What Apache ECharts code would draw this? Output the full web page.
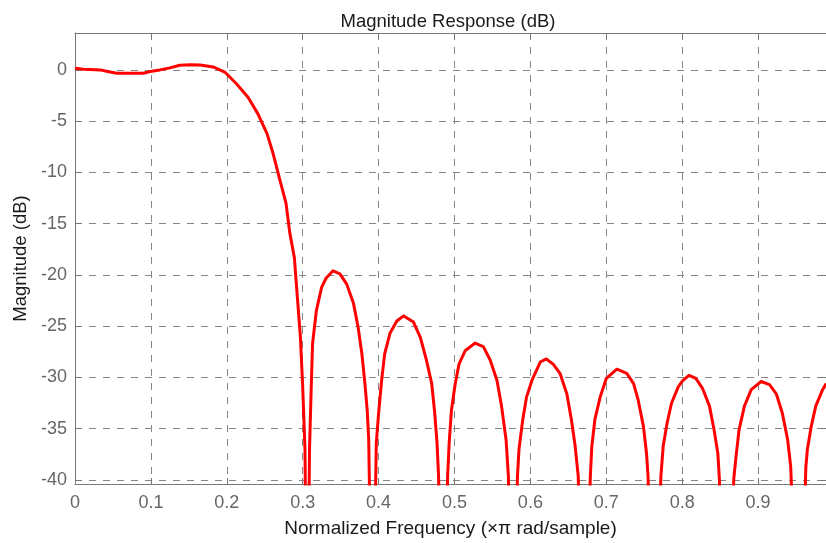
<!DOCTYPE html>
<html>
<head>
<meta charset="utf-8">
<title>Magnitude Response (dB)</title>
<script src="https://cdn.jsdelivr.net/npm/echarts@6/dist/echarts.min.js"></script>
<style>
  html, body { margin: 0; padding: 0; background: #ffffff; }
  #chart { width: 826px; height: 543px; }
</style>
</head>
<body>
<div id="chart"></div>
<script>
// Normalized frequency (x pi rad/sample) and magnitude (dB) of the lowpass filter
const freq = [
  0.000, 0.011, 0.020, 0.033, 0.043, 0.055, 0.072, 0.090, 0.099, 0.112,
  0.125, 0.138, 0.152, 0.165, 0.182, 0.198, 0.213, 0.228, 0.241, 0.253,
  0.261, 0.270, 0.278, 0.283, 0.289, 0.293, 0.297, 0.300, 0.303, 0.306,
  0.309, 0.311, 0.313, 0.318, 0.325, 0.331, 0.340, 0.349, 0.358, 0.367,
  0.373, 0.378, 0.382, 0.385, 0.387, 0.392,
  0.397, 0.400, 0.404, 0.408, 0.415, 0.424, 0.433, 0.446, 0.455, 0.463,
  0.470, 0.474, 0.477, 0.479, 0.485,
  0.491, 0.493, 0.496, 0.501, 0.506, 0.514, 0.527, 0.538, 0.547, 0.556,
  0.562, 0.568, 0.571, 0.576,
  0.583, 0.585, 0.590, 0.595, 0.602, 0.613, 0.621, 0.630, 0.639, 0.648,
  0.654, 0.659, 0.663, 0.671,
  0.679, 0.681, 0.685, 0.692, 0.700, 0.714, 0.727, 0.736, 0.742, 0.749,
  0.753, 0.755, 0.763,
  0.772, 0.775, 0.780, 0.786, 0.795, 0.801, 0.809, 0.818, 0.827, 0.836,
  0.842, 0.847, 0.849, 0.858,
  0.868, 0.871, 0.875, 0.882, 0.891, 0.904, 0.915, 0.924, 0.932, 0.939,
  0.943, 0.954,
  0.963, 0.965, 0.970, 0.976, 0.985, 0.989, 1.000
];

const magnitude = [
  0.16, 0.07, 0.05, 0.00, -0.16, -0.32, -0.32, -0.32, -0.16, 0.00,
  0.20, 0.45, 0.50, 0.48, 0.29, -0.25, -1.38, -2.67, -4.29, -6.22,
  -8.16, -10.75, -13.0, -15.9, -18.3, -22.2, -26.1, -30.9, -37.0, -60,
  -37.0, -31.6, -26.7, -23.5, -21.2, -20.3, -19.6, -19.9, -20.9, -22.8,
  -25.1, -27.7, -30.6, -33.2, -36.1, -60,
  -36.4, -33.5, -30.3, -27.7, -25.7, -24.5, -24.0, -24.6, -26.1, -28.3,
  -30.6, -33.5, -36.4, -39.6, -60,
  -39.6, -36.4, -33.2, -30.6, -28.7, -27.4, -26.65, -27.0, -28.3, -30.3,
  -32.8, -36.1, -39.6, -60,
  -39.6, -37.0, -34.1, -31.9, -30.3, -28.5, -28.2, -28.7, -29.6, -31.6,
  -34.1, -36.7, -39.6, -60,
  -39.6, -36.7, -34.1, -31.9, -30.1, -29.2, -29.6, -30.6, -32.2, -34.8,
  -37.4, -39.6, -60,
  -39.6, -36.7, -34.5, -32.5, -30.9, -30.3, -29.8, -30.1, -31.1, -32.8,
  -35.1, -37.4, -39.9, -60,
  -39.9, -37.7, -35.1, -32.8, -31.2, -30.4, -30.7, -31.6, -33.5, -36.1,
  -38.7, -60,
  -38.7, -37.0, -34.8, -32.8, -31.2, -30.7, -30.3
];

// Tick positions
const xTicks = [0, 0.1, 0.2, 0.3, 0.4, 0.5, 0.6, 0.7, 0.8, 0.9];
const yTicks = [-40, -35, -30, -25, -20, -15, -10, -5, 0];

// Axis limits (the frequency axis is cut just short of 1)
const xLimits = [0, 0.9895];
const yLimits = [-40.4, 3.6];

const tickColor = '#666666';
const gridColor = '#858585';
const boxColor = '#777777';
const fontFamily = '"Liberation Sans", Arial, Helvetica, sans-serif';

const chart = echarts.init(document.getElementById('chart'), null, { renderer: 'canvas' });

const boxAxisLine = { show: true, onZero: false, lineStyle: { color: boxColor, width: 1 } };
const dashedGrid = { show: true, lineStyle: { color: gridColor, type: [7, 7], width: 1 } };

chart.setOption({
  backgroundColor: '#ffffff',
  animation: false,
  title: {
    text: 'Magnitude Response (dB)',
    left: 443,
    top: 7,
    textAlign: 'center',
    textStyle: { fontFamily, fontSize: 18.5, fontWeight: 'normal', color: '#1a1a1a' }
  },
  grid: { left: 75, top: 33, bottom: 55, right: 0, containLabel: false },
  xAxis: [
    {
      type: 'value',
      min: xLimits[0],
      max: xLimits[1],
      position: 'bottom',
      name: 'Normalized Frequency (×π rad/sample)',
      nameLocation: 'middle',
      nameGap: 35,
      nameTextStyle: { fontFamily, fontSize: 19, color: '#1a1a1a' },
      axisLine: boxAxisLine,
      axisTick: { show: true, inside: true, length: 6, customValues: xTicks, lineStyle: { color: boxColor } },
      axisLabel: {
        customValues: xTicks, margin: 10, fontFamily, fontSize: 18, color: tickColor,
        formatter: v => String(Math.round(v * 10) / 10)
      },
      splitLine: dashedGrid
    },
    {
      type: 'value',
      min: xLimits[0],
      max: xLimits[1],
      position: 'top',
      axisLine: boxAxisLine,
      axisTick: { show: true, inside: true, length: 6, customValues: xTicks, lineStyle: { color: boxColor } },
      axisLabel: { show: false },
      splitLine: { show: false }
    }
  ],
  yAxis: [
    {
      type: 'value',
      min: yLimits[0],
      max: yLimits[1],
      position: 'left',
      name: 'Magnitude (dB)',
      nameLocation: 'middle',
      nameGap: 44,
      nameRotate: 90,
      nameTextStyle: { fontFamily, fontSize: 18.5, color: '#1a1a1a' },
      axisLine: boxAxisLine,
      axisTick: { show: true, inside: true, length: 6, customValues: yTicks, lineStyle: { color: boxColor } },
      axisLabel: { customValues: yTicks, margin: 8, fontFamily, fontSize: 18, color: tickColor },
      splitLine: dashedGrid
    },
    {
      type: 'value',
      min: yLimits[0],
      max: yLimits[1],
      position: 'right',
      axisLine: boxAxisLine,
      axisTick: { show: true, inside: true, length: 6, customValues: yTicks, lineStyle: { color: boxColor } },
      axisLabel: { show: false },
      splitLine: { show: false }
    }
  ],
  series: [
    {
      type: 'line',
      xAxisIndex: 0,
      yAxisIndex: 0,
      data: freq.map((f, i) => [f, magnitude[i]]),
      showSymbol: false,
      symbol: 'none',
      clip: true,
      smooth: false,
      lineStyle: { color: '#ff0000', width: 3, join: 'round' },
      z: 5
    }
  ]
});
</script>
</body>
</html>
